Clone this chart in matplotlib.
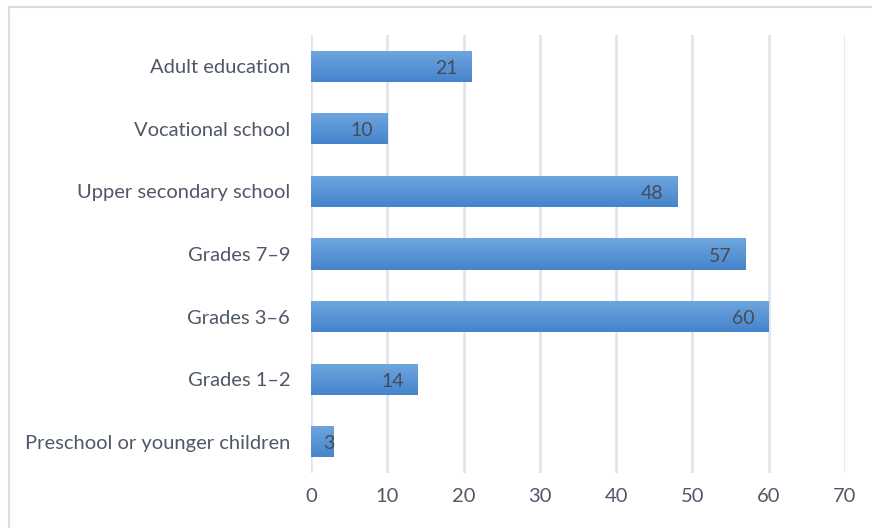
import numpy as np
import matplotlib
matplotlib.use("Agg")
import matplotlib.pyplot as plt
from matplotlib.patches import Rectangle
from matplotlib.colors import LinearSegmentedColormap

categories = [
    "Preschool or younger children",
    "Grades 1\u20132",
    "Grades 3\u20136",
    "Grades 7\u20139",
    "Upper secondary school",
    "Vocational school",
    "Adult education",
]
values = [3, 14, 60, 57, 48, 10, 21]
xticks = [0, 10, 20, 30, 40, 50, 60, 70]

plt.rcParams["font.family"] = ["Lato", "DejaVu Sans"]

fig = plt.figure(figsize=(8.72, 5.28), dpi=100)
ax = fig.add_axes([311 / 872, 1 - 473 / 528, (845 - 311) / 872, (473 - 35) / 528])

# outer chart-area frame
fig.patches.append(Rectangle((9 / 872, -0.05), 1.0, 1.05 - 7 / 528, transform=fig.transFigure,
                             fill=False, edgecolor="#D9DDE3", linewidth=1.5, zorder=0))

ax.set_xlim(0, 70)
ax.set_ylim(-0.5, len(categories) - 0.5)
ax.set_xticks(xticks)
ax.set_yticks(range(len(categories)))
ax.set_yticklabels(categories)
ax.grid(axis="x", color="#DEE2EA", linewidth=1.8)
ax.set_axisbelow(True)
for s in ax.spines.values():
    s.set_visible(False)
ax.tick_params(length=0, labelsize=14.5, labelcolor="#4E5867")
ax.tick_params(axis="y", pad=15)
ax.tick_params(axis="x", pad=11)

cmap = LinearSegmentedColormap.from_list("bar", ["#4584CC", "#6FA6DE"])
grad = np.linspace(0, 1, 256).reshape(-1, 1)
bar_h = 0.5
bars = ax.barh(range(len(values)), values, height=bar_h, color="none", edgecolor="none")
for b, v in zip(bars, values):
    y0 = b.get_y()
    im = ax.imshow(grad, cmap=cmap, aspect="auto", origin="lower",
                   extent=[0, v, y0, y0 + bar_h], zorder=2, interpolation="bilinear")
    im.set_clip_path(b)
    off = -14 if v > 5 else 1
    ax.annotate(str(v), xy=(v, b.get_y() + bar_h / 2), xytext=(off, -2),
                textcoords="offset pixels", ha="right", va="center",
                fontsize=14, color="#444C58", zorder=3)

fig.savefig("out.png", dpi=100)
